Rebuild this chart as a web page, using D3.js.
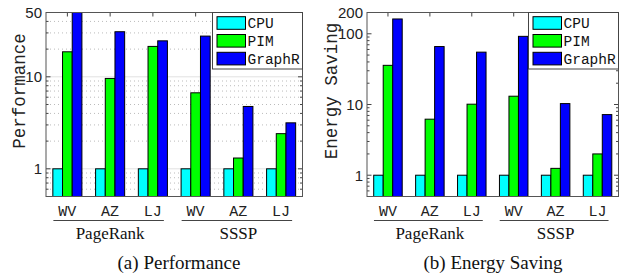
<!DOCTYPE html>
<html>
<head>
<meta charset="UTF-8">
<title>GraphR performance and energy</title>
<style>
  body { margin: 0; background: #fff; }
  svg { display: block; }
</style>
</head>
<body>
<div id="chart"></div>
<script src="https://d3js.org/d3.v7.min.js"></script>
<script>
// data
var categories = ["WV", "AZ", "LJ", "WV", "AZ", "LJ"];
var groups = ["PageRank", "SSSP"];
var series = ["CPU", "PIM", "GraphR"];
var colors = ["#00ffff", "#00ff00", "#0000ff"];

var perfCPU    = [1, 1, 1, 1, 1, 1];
var perfPIM    = [18.7, 9.6, 21.4, 6.7, 1.31, 2.41];
var perfGraphR = [50, 30.9, 24.6, 27.7, 4.76, 3.16];

var energyCPU    = [1, 1, 1, 1, 1, 1];
var energyPIM    = [35.8, 6.2, 10.1, 13.1, 1.25, 2.0];
var energyGraphR = [162, 66, 55, 92, 10.3, 7.2];

var perfTicks = [1, 10, 50];
var energyTicks = [1, 10, 100, 200];

var width = 626, height = 275;

var svg = d3.select("#chart").append("svg")
    .attr("width", width)
    .attr("height", height);

function drawPanel(p) {
    var g = svg.append("g");
    var vals = [p.cpu, p.pim, p.graphr];

    var y = d3.scaleLog().domain(p.domain).range([p.bottom, p.top]);
    var x = d3.scaleBand().domain(d3.range(categories.length))
        .range([p.left, p.right]).paddingInner(0.32).paddingOuter(0.16);
    var xs = d3.scaleBand().domain(d3.range(series.length)).range([0, x.bandwidth()]);

    // minor ticks: 1..9 times each decade
    var minor = [];
    for (var e = -1; e <= 3; e++) {
        for (var m = 1; m < 10; m++) {
            var v = m * Math.pow(10, e);
            if (v > p.domain[0] && v < p.domain[1] && p.ticks.indexOf(v) < 0) minor.push(v);
        }
    }

    if (p.grid) {
        g.append("g").selectAll("line").data(minor).join("line")
            .attr("x1", p.left).attr("x2", p.right)
            .attr("y1", d => y(d)).attr("y2", d => y(d))
            .attr("stroke", "#bbb").attr("stroke-dasharray", "1,3");
        g.append("g").selectAll("line").data(p.ticks.filter(d => d < p.domain[1])).join("line")
            .attr("x1", p.left).attr("x2", p.right)
            .attr("y1", d => y(d)).attr("y2", d => y(d))
            .attr("stroke", "#e2e2e2");
    }

    // bars
    series.forEach(function (s, si) {
        g.append("g").selectAll("rect").data(vals[si]).join("rect")
            .attr("x", (d, i) => x(i) + xs(si))
            .attr("width", xs.bandwidth())
            .attr("y", d => y(d))
            .attr("height", d => p.bottom - y(d))
            .attr("fill", colors[si])
            .attr("stroke", "#000")
            .attr("stroke-width", 1);
    });

    // y axis ticks on both sides, inward
    var ticksG = g.append("g").attr("stroke", "#444");
    [p.left, p.right].forEach(function (xx, k) {
        var dir = k === 0 ? 1 : -1;
        ticksG.append("g").selectAll("line").data(minor).join("line")
            .attr("x1", xx).attr("x2", xx + dir * 2.5)
            .attr("y1", d => y(d)).attr("y2", d => y(d));
        ticksG.append("g").selectAll("line").data(p.ticks).join("line")
            .attr("x1", xx).attr("x2", xx + dir * 4.5)
            .attr("y1", d => y(d)).attr("y2", d => y(d));
    });
    // x ticks on top
    ticksG.append("g").selectAll("line").data(d3.range(categories.length)).join("line")
        .attr("x1", i => x(i) + x.bandwidth() / 2).attr("x2", i => x(i) + x.bandwidth() / 2)
        .attr("y1", p.top).attr("y2", p.top + 4);

    // frame
    g.append("rect")
        .attr("x", p.left).attr("y", p.top)
        .attr("width", p.right - p.left).attr("height", p.bottom - p.top)
        .attr("fill", "none").attr("stroke", "#555");

    // y tick labels
    g.append("g").selectAll("text").data(p.ticks).join("text")
        .attr("x", p.left - 4)
        .attr("y", d => y(d))
        .attr("dy", "0.36em")
        .attr("text-anchor", "end")
        .style("font-family", "Liberation Sans, Arial, sans-serif")
        .style("font-size", "15px")
        .attr("fill", "#222")
        .text(d => d);

    // y title
    g.append("text")
        .attr("transform", "translate(" + p.titleX + "," + p.titleY + ") rotate(-90)")
        .attr("text-anchor", "middle")
        .attr("dy", "0.32em")
        .style("font-family", "Liberation Mono, Courier New, monospace")
        .style("font-size", "17.5px")
        .attr("fill", "#222")
        .text(p.title);

    // category labels
    g.append("g").selectAll("text").data(categories).join("text")
        .attr("x", (d, i) => x(i) + x.bandwidth() / 2)
        .attr("y", 211)
        .attr("dy", "0.35em")
        .attr("text-anchor", "middle")
        .style("font-family", "Liberation Mono, Courier New, monospace")
        .style("font-size", "15px")
        .attr("fill", "#222")
        .text(d => d);

    // group labels with underline
    groups.forEach(function (name, gi) {
        var c0 = x(gi * 3) + x.bandwidth() / 2;
        var c2 = x(gi * 3 + 2) + x.bandwidth() / 2;
        g.append("line")
            .attr("x1", c0 - 14).attr("x2", c2 + 11)
            .attr("y1", 220.5).attr("y2", 220.5)
            .attr("stroke", "#444");
        g.append("text")
            .attr("x", (c0 + c2) / 2)
            .attr("y", 233)
            .attr("dy", "0.35em")
            .attr("text-anchor", "middle")
            .style("font-family", "Liberation Serif, Times New Roman, serif")
            .style("font-size", "17px")
            .attr("fill", "#111")
            .text(name);
    });

    // caption
    g.append("text")
        .attr("x", p.captionX)
        .attr("y", 262)
        .attr("dy", "0.35em")
        .attr("text-anchor", "middle")
        .style("font-family", "Liberation Serif, Times New Roman, serif")
        .style("font-size", "19px")
        .attr("fill", "#111")
        .text(p.caption);

    // legend
    var lw = 90, lx = p.right - lw, ly = p.top;
    var leg = g.append("g");
    leg.append("rect")
        .attr("x", lx).attr("y", ly).attr("width", lw).attr("height", 56.5)
        .attr("fill", "#fff").attr("stroke", "#444");
    var rows = leg.selectAll("g").data(series).join("g")
        .attr("transform", (d, i) => "translate(" + lx + "," + (ly + 4.2 + i * 17.8) + ")");
    rows.append("rect")
        .attr("x", 4.5).attr("y", 0).attr("width", 28.5).attr("height", 12.6)
        .attr("fill", (d, i) => colors[i]).attr("stroke", "#000");
    rows.append("text")
        .attr("x", 35).attr("y", 6.3).attr("dy", "0.35em")
        .style("font-family", "Liberation Mono, Courier New, monospace")
        .style("font-size", "14.5px")
        .attr("fill", "#111")
        .text(d => d);
}

drawPanel({
    left: 46, right: 302.5, top: 12.5, bottom: 196.5,
    domain: [0.5, 50], ticks: perfTicks, grid: true,
    cpu: perfCPU, pim: perfPIM, graphr: perfGraphR,
    title: "Performance", titleX: 19, titleY: 91,
    caption: "(a) Performance", captionX: 179
});

drawPanel({
    left: 367, right: 618.5, top: 12.5, bottom: 196.5,
    domain: [0.5, 200], ticks: energyTicks, grid: false,
    cpu: energyCPU, pim: energyPIM, graphr: energyGraphR,
    title: "Energy Saving", titleX: 331, titleY: 91,
    caption: "(b) Energy Saving", captionX: 493
});
</script>
</body>
</html>
